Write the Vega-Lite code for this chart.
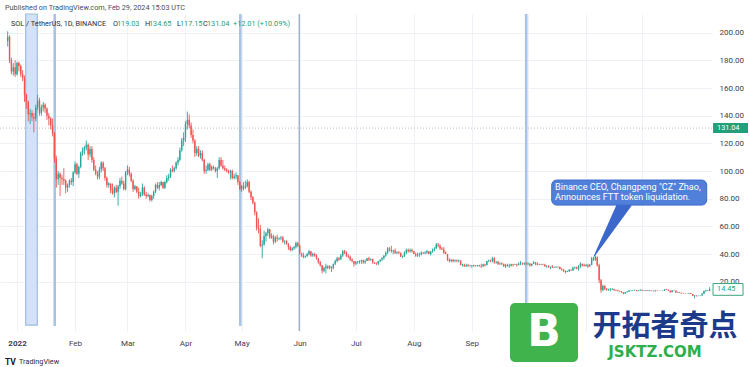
{
"$schema":"https://vega.github.io/schema/vega-lite/v6.json",
"width":712,"height":317,
"autosize":{"type":"none"},
"padding":{"left":0,"top":14,"right":38,"bottom":36},
"background":"white",
"config":{"view":{"stroke":null},"font":"Roboto","text":{"font":"Roboto"}},
"datasets":{
"sol":[
{"d":"2021-12-27","o":194,"h":201,"l":190,"c":197},
{"d":"2021-12-28","o":197,"h":198,"l":178,"c":180},
{"d":"2021-12-29","o":180,"h":182,"l":170,"c":172},
{"d":"2021-12-30","o":172,"h":178,"l":169,"c":175},
{"d":"2021-12-31","o":175,"h":180,"l":168,"c":170},
{"d":"2022-01-01","o":170,"h":179,"l":169,"c":178},
{"d":"2022-01-02","o":178,"h":179,"l":172,"c":176},
{"d":"2022-01-03","o":176,"h":177,"l":168,"c":170},
{"d":"2022-01-04","o":170,"h":173,"l":165,"c":167},
{"d":"2022-01-05","o":167,"h":169,"l":150,"c":155},
{"d":"2022-01-06","o":155,"h":156,"l":145,"c":150},
{"d":"2022-01-07","o":150,"h":151,"l":136,"c":141},
{"d":"2022-01-08","o":141,"h":145,"l":134,"c":142},
{"d":"2022-01-09","o":142,"h":144,"l":136,"c":139},
{"d":"2022-01-10","o":139,"h":142,"l":128,"c":138},
{"d":"2022-01-11","o":138,"h":148,"l":136,"c":146},
{"d":"2022-01-12","o":146,"h":155,"l":144,"c":151},
{"d":"2022-01-13","o":151,"h":153,"l":140,"c":142},
{"d":"2022-01-14","o":142,"h":148,"l":140,"c":146},
{"d":"2022-01-15","o":146,"h":150,"l":143,"c":148},
{"d":"2022-01-16","o":148,"h":149,"l":142,"c":145},
{"d":"2022-01-17","o":145,"h":146,"l":137,"c":140},
{"d":"2022-01-18","o":140,"h":142,"l":133,"c":138},
{"d":"2022-01-19","o":138,"h":139,"l":130,"c":133},
{"d":"2022-01-20","o":133,"h":138,"l":125,"c":127},
{"d":"2022-01-21","o":127,"h":128,"l":106,"c":109},
{"d":"2022-01-22","o":109,"h":111,"l":88,"c":94},
{"d":"2022-01-23","o":94,"h":100,"l":90,"c":98},
{"d":"2022-01-24","o":98,"h":99,"l":82,"c":95},
{"d":"2022-01-25","o":95,"h":97,"l":90,"c":94},
{"d":"2022-01-26","o":94,"h":102,"l":90,"c":93},
{"d":"2022-01-27","o":93,"h":94,"l":84,"c":88},
{"d":"2022-01-28","o":88,"h":91,"l":85,"c":90},
{"d":"2022-01-29","o":90,"h":94,"l":88,"c":93},
{"d":"2022-01-30","o":93,"h":95,"l":90,"c":92},
{"d":"2022-01-31","o":92,"h":100,"l":89,"c":99},
{"d":"2022-02-01","o":99,"h":107,"l":98,"c":105},
{"d":"2022-02-02","o":105,"h":106,"l":97,"c":98},
{"d":"2022-02-03","o":98,"h":104,"l":95,"c":103},
{"d":"2022-02-04","o":103,"h":114,"l":102,"c":113},
{"d":"2022-02-05","o":113,"h":117,"l":111,"c":115},
{"d":"2022-02-06","o":115,"h":118,"l":112,"c":117},
{"d":"2022-02-07","o":117,"h":122,"l":115,"c":119},
{"d":"2022-02-08","o":119,"h":120,"l":108,"c":112},
{"d":"2022-02-09","o":112,"h":118,"l":110,"c":116},
{"d":"2022-02-10","o":116,"h":118,"l":106,"c":108},
{"d":"2022-02-11","o":108,"h":110,"l":100,"c":101},
{"d":"2022-02-12","o":101,"h":104,"l":97,"c":98},
{"d":"2022-02-13","o":98,"h":100,"l":94,"c":96},
{"d":"2022-02-14","o":96,"h":103,"l":94,"c":101},
{"d":"2022-02-15","o":101,"h":107,"l":99,"c":106},
{"d":"2022-02-16","o":106,"h":107,"l":100,"c":102},
{"d":"2022-02-17","o":102,"h":103,"l":93,"c":95},
{"d":"2022-02-18","o":95,"h":96,"l":88,"c":90},
{"d":"2022-02-19","o":90,"h":92,"l":88,"c":91},
{"d":"2022-02-20","o":91,"h":91,"l":84,"c":86},
{"d":"2022-02-21","o":86,"h":91,"l":83,"c":84},
{"d":"2022-02-22","o":84,"h":89,"l":81,"c":88},
{"d":"2022-02-23","o":88,"h":90,"l":84,"c":85},
{"d":"2022-02-24","o":85,"h":90,"l":75,"c":89},
{"d":"2022-02-25","o":89,"h":95,"l":87,"c":93},
{"d":"2022-02-26","o":93,"h":96,"l":90,"c":91},
{"d":"2022-02-27","o":91,"h":93,"l":86,"c":87},
{"d":"2022-02-28","o":87,"h":100,"l":86,"c":99},
{"d":"2022-03-01","o":99,"h":104,"l":97,"c":101},
{"d":"2022-03-02","o":101,"h":103,"l":96,"c":98},
{"d":"2022-03-03","o":98,"h":99,"l":92,"c":93},
{"d":"2022-03-04","o":93,"h":94,"l":85,"c":87},
{"d":"2022-03-05","o":87,"h":90,"l":86,"c":89},
{"d":"2022-03-06","o":89,"h":89,"l":84,"c":85},
{"d":"2022-03-07","o":85,"h":88,"l":80,"c":82},
{"d":"2022-03-08","o":82,"h":85,"l":81,"c":83},
{"d":"2022-03-09","o":83,"h":91,"l":82,"c":88},
{"d":"2022-03-10","o":88,"h":89,"l":82,"c":83},
{"d":"2022-03-11","o":83,"h":85,"l":80,"c":82},
{"d":"2022-03-12","o":82,"h":84,"l":81,"c":82.6},
{"d":"2022-03-13","o":82.6,"h":83,"l":78,"c":79},
{"d":"2022-03-14","o":79,"h":83,"l":78,"c":82},
{"d":"2022-03-15","o":82,"h":86,"l":80,"c":85},
{"d":"2022-03-16","o":85,"h":91,"l":84,"c":90},
{"d":"2022-03-17","o":90,"h":92,"l":87,"c":88},
{"d":"2022-03-18","o":88,"h":92,"l":86,"c":90},
{"d":"2022-03-19","o":90,"h":93,"l":89,"c":92},
{"d":"2022-03-20","o":92,"h":92,"l":87,"c":88},
{"d":"2022-03-21","o":88,"h":93,"l":87,"c":92},
{"d":"2022-03-22","o":92,"h":97,"l":91,"c":95},
{"d":"2022-03-23","o":95,"h":98,"l":93,"c":96},
{"d":"2022-03-24","o":96,"h":102,"l":95,"c":101},
{"d":"2022-03-25","o":101,"h":104,"l":99,"c":100},
{"d":"2022-03-26","o":100,"h":103,"l":99,"c":102},
{"d":"2022-03-27","o":102,"h":107,"l":101,"c":106},
{"d":"2022-03-28","o":106,"h":110,"l":104,"c":108},
{"d":"2022-03-29","o":108,"h":117,"l":107,"c":115},
{"d":"2022-03-30","o":115,"h":124,"l":114,"c":122},
{"d":"2022-03-31","o":122,"h":128,"l":118,"c":124},
{"d":"2022-04-01","o":124,"h":136,"l":121,"c":134},
{"d":"2022-04-02","o":134,"h":143,"l":130,"c":137},
{"d":"2022-04-03","o":137,"h":141,"l":131,"c":133},
{"d":"2022-04-04","o":133,"h":135,"l":124,"c":126},
{"d":"2022-04-05","o":126,"h":130,"l":120,"c":122},
{"d":"2022-04-06","o":122,"h":123,"l":110,"c":113},
{"d":"2022-04-07","o":113,"h":118,"l":111,"c":116},
{"d":"2022-04-08","o":116,"h":118,"l":110,"c":111},
{"d":"2022-04-09","o":111,"h":115,"l":109,"c":113},
{"d":"2022-04-10","o":113,"h":115,"l":107,"c":108},
{"d":"2022-04-11","o":108,"h":109,"l":98,"c":100},
{"d":"2022-04-12","o":100,"h":104,"l":98,"c":101},
{"d":"2022-04-13","o":101,"h":106,"l":100,"c":105},
{"d":"2022-04-14","o":105,"h":106,"l":100,"c":101},
{"d":"2022-04-15","o":101,"h":104,"l":100,"c":103},
{"d":"2022-04-16","o":103,"h":104,"l":101,"c":102},
{"d":"2022-04-17","o":102,"h":103,"l":99,"c":100},
{"d":"2022-04-18","o":100,"h":103,"l":95,"c":102},
{"d":"2022-04-19","o":102,"h":110,"l":101,"c":108},
{"d":"2022-04-20","o":108,"h":110,"l":103,"c":104},
{"d":"2022-04-21","o":104,"h":108,"l":101,"c":102},
{"d":"2022-04-22","o":102,"h":104,"l":100,"c":101},
{"d":"2022-04-23","o":101,"h":102,"l":99,"c":100},
{"d":"2022-04-24","o":100,"h":101,"l":98,"c":99},
{"d":"2022-04-25","o":99,"h":101,"l":94,"c":100},
{"d":"2022-04-26","o":100,"h":101,"l":94,"c":95},
{"d":"2022-04-27","o":95,"h":98,"l":94,"c":96},
{"d":"2022-04-28","o":96,"h":99,"l":94,"c":97},
{"d":"2022-04-29","o":97,"h":97,"l":90,"c":92},
{"d":"2022-04-30","o":92,"h":93,"l":86,"c":87},
{"d":"2022-05-01","o":87,"h":90,"l":85,"c":89},
{"d":"2022-05-02","o":89,"h":92,"l":86,"c":88},
{"d":"2022-05-03","o":88,"h":93,"l":87,"c":89},
{"d":"2022-05-04","o":89,"h":94,"l":88,"c":92},
{"d":"2022-05-05","o":92,"h":93,"l":84,"c":85},
{"d":"2022-05-06","o":85,"h":86,"l":79,"c":81},
{"d":"2022-05-07","o":81,"h":82,"l":76,"c":77},
{"d":"2022-05-08","o":77,"h":78,"l":68,"c":70},
{"d":"2022-05-09","o":70,"h":71,"l":57,"c":59},
{"d":"2022-05-10","o":59,"h":66,"l":55,"c":58},
{"d":"2022-05-11","o":58,"h":61,"l":45,"c":46},
{"d":"2022-05-12","o":46,"h":50,"l":37,"c":47},
{"d":"2022-05-13","o":47,"h":57,"l":46,"c":53},
{"d":"2022-05-14","o":53,"h":56,"l":49,"c":55},
{"d":"2022-05-15","o":55,"h":59,"l":53,"c":58},
{"d":"2022-05-16","o":58,"h":58,"l":51,"c":52},
{"d":"2022-05-17","o":52,"h":55,"l":51,"c":53},
{"d":"2022-05-18","o":53,"h":54,"l":47,"c":49},
{"d":"2022-05-19","o":49,"h":53,"l":48,"c":52},
{"d":"2022-05-20","o":52,"h":54,"l":49,"c":51},
{"d":"2022-05-21","o":51,"h":52,"l":50,"c":51.5},
{"d":"2022-05-22","o":51.5,"h":53,"l":50,"c":52},
{"d":"2022-05-23","o":52,"h":53,"l":48,"c":49},
{"d":"2022-05-24","o":49,"h":50,"l":47,"c":49.5},
{"d":"2022-05-25","o":49.5,"h":50,"l":47,"c":47},
{"d":"2022-05-26","o":47,"h":48,"l":43,"c":45},
{"d":"2022-05-27","o":45,"h":46,"l":42,"c":43},
{"d":"2022-05-28","o":43,"h":45,"l":42,"c":44},
{"d":"2022-05-29","o":44,"h":46,"l":43,"c":45},
{"d":"2022-05-30","o":45,"h":49,"l":44,"c":48},
{"d":"2022-05-31","o":48,"h":49,"l":45,"c":46},
{"d":"2022-06-01","o":46,"h":47,"l":40,"c":40.5},
{"d":"2022-06-02","o":40.5,"h":41,"l":38,"c":39},
{"d":"2022-06-03","o":39,"h":41,"l":37,"c":38},
{"d":"2022-06-04","o":38,"h":39,"l":37,"c":38.5},
{"d":"2022-06-05","o":38.5,"h":41,"l":38,"c":40},
{"d":"2022-06-06","o":40,"h":43,"l":39,"c":42},
{"d":"2022-06-07","o":42,"h":42,"l":38,"c":39},
{"d":"2022-06-08","o":39,"h":41,"l":38,"c":40},
{"d":"2022-06-09","o":40,"h":41,"l":38,"c":39},
{"d":"2022-06-10","o":39,"h":40,"l":36,"c":37},
{"d":"2022-06-11","o":37,"h":37,"l":33,"c":34},
{"d":"2022-06-12","o":34,"h":35,"l":31,"c":32},
{"d":"2022-06-13","o":32,"h":32,"l":26,"c":28},
{"d":"2022-06-14","o":28,"h":31,"l":27,"c":30},
{"d":"2022-06-15","o":30,"h":33,"l":26,"c":31},
{"d":"2022-06-16","o":31,"h":32,"l":29,"c":30},
{"d":"2022-06-17","o":30,"h":32,"l":29,"c":31},
{"d":"2022-06-18","o":31,"h":31,"l":27,"c":30},
{"d":"2022-06-19","o":30,"h":33,"l":29,"c":33},
{"d":"2022-06-20","o":33,"h":36,"l":32,"c":35},
{"d":"2022-06-21","o":35,"h":38,"l":34,"c":37},
{"d":"2022-06-22","o":37,"h":38,"l":35,"c":36},
{"d":"2022-06-23","o":36,"h":40,"l":36,"c":39},
{"d":"2022-06-24","o":39,"h":43,"l":38,"c":42},
{"d":"2022-06-25","o":42,"h":43,"l":40,"c":41},
{"d":"2022-06-26","o":41,"h":42,"l":38,"c":38.5},
{"d":"2022-06-27","o":38.5,"h":40,"l":37,"c":38},
{"d":"2022-06-28","o":38,"h":39,"l":35,"c":36},
{"d":"2022-06-29","o":36,"h":37,"l":34,"c":35},
{"d":"2022-06-30","o":35,"h":35,"l":31,"c":33},
{"d":"2022-07-01","o":33,"h":35,"l":32,"c":34},
{"d":"2022-07-02","o":34,"h":35,"l":33,"c":34.5},
{"d":"2022-07-03","o":34.5,"h":35.5,"l":33,"c":35},
{"d":"2022-07-04","o":35,"h":36,"l":33,"c":35.5},
{"d":"2022-07-05","o":35.5,"h":36,"l":33,"c":34},
{"d":"2022-07-06","o":34,"h":36,"l":33,"c":35},
{"d":"2022-07-07","o":35,"h":37,"l":35,"c":37},
{"d":"2022-07-08","o":37,"h":38,"l":35,"c":36},
{"d":"2022-07-09","o":36,"h":37,"l":35,"c":36.5},
{"d":"2022-07-10","o":36.5,"h":36.5,"l":33,"c":34},
{"d":"2022-07-11","o":34,"h":34,"l":33,"c":33.2},
{"d":"2022-07-12","o":33.2,"h":34,"l":32,"c":33},
{"d":"2022-07-13","o":33,"h":35,"l":32,"c":35},
{"d":"2022-07-14","o":35,"h":36,"l":34,"c":36},
{"d":"2022-07-15","o":36,"h":38,"l":35,"c":37},
{"d":"2022-07-16","o":37,"h":39,"l":36,"c":39},
{"d":"2022-07-17","o":39,"h":42,"l":38,"c":41},
{"d":"2022-07-18","o":41,"h":45,"l":40,"c":44},
{"d":"2022-07-19","o":44,"h":45,"l":42,"c":43},
{"d":"2022-07-20","o":43,"h":46,"l":41,"c":42},
{"d":"2022-07-21","o":42,"h":43,"l":40,"c":42.5},
{"d":"2022-07-22","o":42.5,"h":44,"l":40,"c":41},
{"d":"2022-07-23","o":41,"h":42,"l":40,"c":41.5},
{"d":"2022-07-24","o":41.5,"h":42,"l":40,"c":41},
{"d":"2022-07-25","o":41,"h":41,"l":38,"c":38},
{"d":"2022-07-26","o":38,"h":39,"l":37,"c":38.5},
{"d":"2022-07-27","o":38.5,"h":42,"l":38,"c":41},
{"d":"2022-07-28","o":41,"h":44,"l":40,"c":43},
{"d":"2022-07-29","o":43,"h":44,"l":41,"c":42},
{"d":"2022-07-30","o":42,"h":44,"l":41,"c":43},
{"d":"2022-07-31","o":43,"h":44,"l":41,"c":42},
{"d":"2022-08-01","o":42,"h":42,"l":40,"c":40},
{"d":"2022-08-02","o":40,"h":41,"l":38,"c":39},
{"d":"2022-08-03","o":39,"h":41,"l":38,"c":39.5},
{"d":"2022-08-04","o":39.5,"h":41,"l":38,"c":40},
{"d":"2022-08-05","o":40,"h":42,"l":39,"c":41},
{"d":"2022-08-06","o":41,"h":41.5,"l":40,"c":40.6},
{"d":"2022-08-07","o":40.6,"h":42,"l":40,"c":41.2},
{"d":"2022-08-08","o":41.2,"h":43,"l":40,"c":42},
{"d":"2022-08-09","o":42,"h":42,"l":40,"c":40},
{"d":"2022-08-10","o":40,"h":42,"l":39,"c":42},
{"d":"2022-08-11","o":42,"h":44,"l":41,"c":43},
{"d":"2022-08-12","o":43,"h":45,"l":42,"c":44},
{"d":"2022-08-13","o":44,"h":48,"l":44,"c":47},
{"d":"2022-08-14","o":47,"h":48,"l":45,"c":46},
{"d":"2022-08-15","o":46,"h":47,"l":43,"c":44},
{"d":"2022-08-16","o":44,"h":45,"l":43,"c":43.3},
{"d":"2022-08-17","o":43.3,"h":45,"l":40,"c":41},
{"d":"2022-08-18","o":41,"h":42,"l":40,"c":40},
{"d":"2022-08-19","o":40,"h":40,"l":35,"c":36},
{"d":"2022-08-20","o":36,"h":37,"l":34,"c":35},
{"d":"2022-08-21","o":35,"h":36,"l":34,"c":36},
{"d":"2022-08-22","o":36,"h":36.2,"l":34,"c":35},
{"d":"2022-08-23","o":35,"h":36,"l":34,"c":35.5},
{"d":"2022-08-24","o":35.5,"h":36,"l":34,"c":35},
{"d":"2022-08-25","o":35,"h":36,"l":34,"c":35.3},
{"d":"2022-08-26","o":35.3,"h":35.5,"l":32,"c":32},
{"d":"2022-08-27","o":32,"h":33,"l":31,"c":32.3},
{"d":"2022-08-28","o":32.3,"h":33,"l":31,"c":31},
{"d":"2022-08-29","o":31,"h":33,"l":31,"c":32},
{"d":"2022-08-30","o":32,"h":33,"l":31,"c":31.2},
{"d":"2022-08-31","o":31.2,"h":32,"l":31,"c":31.5},
{"d":"2022-09-01","o":31.5,"h":32,"l":30,"c":32},
{"d":"2022-09-02","o":32,"h":32.3,"l":31,"c":31.2},
{"d":"2022-09-03","o":31.2,"h":32,"l":31,"c":31.4},
{"d":"2022-09-04","o":31.4,"h":32,"l":31,"c":32},
{"d":"2022-09-05","o":32,"h":32.2,"l":31,"c":31.3},
{"d":"2022-09-06","o":31.3,"h":33,"l":30,"c":31},
{"d":"2022-09-07","o":31,"h":33,"l":31,"c":32.5},
{"d":"2022-09-08","o":32.5,"h":33,"l":31,"c":32},
{"d":"2022-09-09","o":32,"h":35,"l":32,"c":35},
{"d":"2022-09-10","o":35,"h":36,"l":34,"c":35.4},
{"d":"2022-09-11","o":35.4,"h":36,"l":34,"c":35},
{"d":"2022-09-12","o":35,"h":38,"l":34,"c":37},
{"d":"2022-09-13","o":37,"h":38,"l":33,"c":34},
{"d":"2022-09-14","o":34,"h":35,"l":33,"c":34.4},
{"d":"2022-09-15","o":34.4,"h":35,"l":32,"c":33},
{"d":"2022-09-16","o":33,"h":34,"l":32,"c":33.3},
{"d":"2022-09-17","o":33.3,"h":34,"l":32,"c":33},
{"d":"2022-09-18","o":33,"h":33,"l":31,"c":31},
{"d":"2022-09-19","o":31,"h":33,"l":30,"c":32},
{"d":"2022-09-20","o":32,"h":33,"l":31,"c":31.2},
{"d":"2022-09-21","o":31.2,"h":33,"l":30,"c":31.5},
{"d":"2022-09-22","o":31.5,"h":33,"l":31,"c":32.6},
{"d":"2022-09-23","o":32.6,"h":33,"l":31,"c":32.2},
{"d":"2022-09-24","o":32.2,"h":33,"l":32,"c":32.4},
{"d":"2022-09-25","o":32.4,"h":33,"l":31,"c":32},
{"d":"2022-09-26","o":32,"h":34,"l":32,"c":33},
{"d":"2022-09-27","o":33,"h":35,"l":32,"c":33.3},
{"d":"2022-09-28","o":33.3,"h":34,"l":32,"c":33},
{"d":"2022-09-29","o":33,"h":34,"l":32,"c":33.4},
{"d":"2022-09-30","o":33.4,"h":34,"l":32,"c":33},
{"d":"2022-10-01","o":33,"h":34,"l":32,"c":33.2},
{"d":"2022-10-02","o":33.2,"h":33.3,"l":31,"c":32},
{"d":"2022-10-03","o":32,"h":33,"l":31,"c":33},
{"d":"2022-10-04","o":33,"h":35,"l":33,"c":34},
{"d":"2022-10-05","o":34,"h":34,"l":32,"c":33},
{"d":"2022-10-06","o":33,"h":34,"l":32,"c":32.3},
{"d":"2022-10-07","o":32.3,"h":33,"l":32,"c":32.1},
{"d":"2022-10-08","o":32.1,"h":33,"l":32,"c":32.5},
{"d":"2022-10-09","o":32.5,"h":33,"l":32,"c":32.2},
{"d":"2022-10-10","o":32.2,"h":33,"l":31,"c":31},
{"d":"2022-10-11","o":31,"h":32,"l":30,"c":31.2},
{"d":"2022-10-12","o":31.2,"h":32,"l":30,"c":30.8},
{"d":"2022-10-13","o":30.8,"h":31,"l":29,"c":31},
{"d":"2022-10-14","o":31,"h":32,"l":30,"c":30.2},
{"d":"2022-10-15","o":30.2,"h":31,"l":30,"c":30.4},
{"d":"2022-10-16","o":30.4,"h":31,"l":30,"c":30.9},
{"d":"2022-10-17","o":30.9,"h":31,"l":30,"c":30.6},
{"d":"2022-10-18","o":30.6,"h":31,"l":29,"c":29.2},
{"d":"2022-10-19","o":29.2,"h":30,"l":28,"c":28.9},
{"d":"2022-10-20","o":28.9,"h":29,"l":27,"c":28},
{"d":"2022-10-21","o":28,"h":28,"l":26,"c":27},
{"d":"2022-10-22","o":27,"h":28,"l":27,"c":27.6},
{"d":"2022-10-23","o":27.6,"h":29,"l":27,"c":28.6},
{"d":"2022-10-24","o":28.6,"h":29,"l":28,"c":28.2},
{"d":"2022-10-25","o":28.2,"h":31,"l":28,"c":30},
{"d":"2022-10-26","o":30,"h":31,"l":29,"c":30.3},
{"d":"2022-10-27","o":30.3,"h":31,"l":29,"c":29.4},
{"d":"2022-10-28","o":29.4,"h":32,"l":28,"c":31},
{"d":"2022-10-29","o":31,"h":34,"l":30,"c":33},
{"d":"2022-10-30","o":33,"h":33,"l":31,"c":32},
{"d":"2022-10-31","o":32,"h":33,"l":31,"c":31.3},
{"d":"2022-11-01","o":31.3,"h":33,"l":31,"c":32},
{"d":"2022-11-02","o":32,"h":33,"l":30,"c":31},
{"d":"2022-11-03","o":31,"h":33,"l":31,"c":32.2},
{"d":"2022-11-04","o":32.2,"h":38,"l":32,"c":37},
{"d":"2022-11-05","o":37,"h":38,"l":35,"c":36},
{"d":"2022-11-06","o":36,"h":39,"l":35,"c":38},
{"d":"2022-11-07","o":38,"h":38,"l":31,"c":32},
{"d":"2022-11-08","o":32,"h":33,"l":19,"c":21},
{"d":"2022-11-09","o":21,"h":22,"l":12,"c":14},
{"d":"2022-11-10","o":14,"h":18,"l":13,"c":17},
{"d":"2022-11-11","o":17,"h":17.5,"l":14,"c":15},
{"d":"2022-11-12","o":15,"h":15.5,"l":13.5,"c":14},
{"d":"2022-11-13","o":14,"h":15,"l":13.5,"c":14.2},
{"d":"2022-11-14","o":14.2,"h":15.5,"l":13,"c":14.4},
{"d":"2022-11-15","o":14.4,"h":15.5,"l":14,"c":14.6},
{"d":"2022-11-16","o":14.6,"h":15,"l":13.5,"c":13.8},
{"d":"2022-11-17","o":13.8,"h":14.2,"l":13.2,"c":13.6},
{"d":"2022-11-18","o":13.6,"h":14.2,"l":13,"c":13.3},
{"d":"2022-11-19","o":13.3,"h":13.6,"l":12.8,"c":13},
{"d":"2022-11-20","o":13,"h":13.2,"l":12,"c":12.2},
{"d":"2022-11-21","o":12.2,"h":12.5,"l":11,"c":11.5},
{"d":"2022-11-22","o":11.5,"h":12.6,"l":11.2,"c":12.4},
{"d":"2022-11-23","o":12.4,"h":13.2,"l":12.2,"c":13},
{"d":"2022-11-24","o":13,"h":14,"l":12.8,"c":13.6},
{"d":"2022-11-25","o":13.6,"h":14,"l":13.2,"c":13.7},
{"d":"2022-11-26","o":13.7,"h":14.2,"l":13.4,"c":13.8},
{"d":"2022-11-27","o":13.8,"h":14.3,"l":13.5,"c":13.9},
{"d":"2022-11-28","o":13.9,"h":14,"l":13,"c":13.4},
{"d":"2022-11-29","o":13.4,"h":14,"l":13.2,"c":13.7},
{"d":"2022-11-30","o":13.7,"h":14.5,"l":13.5,"c":14.1},
{"d":"2022-12-01","o":14.1,"h":14.3,"l":13.4,"c":13.6},
{"d":"2022-12-02","o":13.6,"h":14,"l":13.3,"c":13.8},
{"d":"2022-12-03","o":13.8,"h":14,"l":13.2,"c":13.4},
{"d":"2022-12-04","o":13.4,"h":13.9,"l":13.3,"c":13.8},
{"d":"2022-12-05","o":13.8,"h":14.1,"l":13.3,"c":13.4},
{"d":"2022-12-06","o":13.4,"h":13.7,"l":13.2,"c":13.5},
{"d":"2022-12-07","o":13.5,"h":13.6,"l":12.9,"c":13.2},
{"d":"2022-12-08","o":13.2,"h":13.9,"l":13.1,"c":13.7},
{"d":"2022-12-09","o":13.7,"h":14,"l":13.4,"c":13.6},
{"d":"2022-12-10","o":13.6,"h":13.8,"l":13.5,"c":13.7},
{"d":"2022-12-11","o":13.7,"h":13.9,"l":13.5,"c":13.6},
{"d":"2022-12-12","o":13.6,"h":13.8,"l":13.2,"c":13.7},
{"d":"2022-12-13","o":13.7,"h":14.8,"l":13.4,"c":14.4},
{"d":"2022-12-14","o":14.4,"h":14.8,"l":14,"c":14.2},
{"d":"2022-12-15","o":14.2,"h":14.3,"l":13.3,"c":13.5},
{"d":"2022-12-16","o":13.5,"h":13.6,"l":12.2,"c":12.4},
{"d":"2022-12-17","o":12.4,"h":13.9,"l":12.3,"c":13.7},
{"d":"2022-12-18","o":13.7,"h":13.8,"l":13.3,"c":13.5},
{"d":"2022-12-19","o":13.5,"h":13.6,"l":12.1,"c":12.3},
{"d":"2022-12-20","o":12.3,"h":12.8,"l":11.9,"c":12.4},
{"d":"2022-12-21","o":12.4,"h":12.5,"l":11.8,"c":12},
{"d":"2022-12-22","o":12,"h":12.1,"l":11.4,"c":11.6},
{"d":"2022-12-23","o":11.6,"h":11.8,"l":11.3,"c":11.5},
{"d":"2022-12-24","o":11.5,"h":11.6,"l":11.2,"c":11.3},
{"d":"2022-12-25","o":11.3,"h":11.6,"l":11.1,"c":11.4},
{"d":"2022-12-26","o":11.4,"h":11.8,"l":11.2,"c":11.6},
{"d":"2022-12-27","o":11.6,"h":11.7,"l":11,"c":11.1},
{"d":"2022-12-28","o":11.1,"h":11.2,"l":9.6,"c":9.8},
{"d":"2022-12-29","o":9.8,"h":10.3,"l":8,"c":10.1},
{"d":"2022-12-30","o":10.1,"h":10.2,"l":9.3,"c":9.9},
{"d":"2022-12-31","o":9.9,"h":10.1,"l":9.5,"c":9.97},
{"d":"2023-01-01","o":9.97,"h":10.2,"l":9.6,"c":10},
{"d":"2023-01-02","o":10,"h":11.7,"l":9.9,"c":11.3},
{"d":"2023-01-03","o":11.3,"h":13.6,"l":11.2,"c":13.3},
{"d":"2023-01-04","o":13.3,"h":14,"l":12.6,"c":13.6},
{"d":"2023-01-05","o":13.6,"h":13.9,"l":13.2,"c":13.4},
{"d":"2023-01-06","o":13.4,"h":16,"l":13.1,"c":14.45}
],
"txt":[
{"g":"pub","t":"2021-12-25T13:40:00Z","p":217.8,"s":"Published on TradingView.com, Feb 29, 2024 15:03 UTC"},
{"g":"leg","t":"2021-12-28T18:43:00Z","p":206.3,"s":"SOL / TetherUS, 1D, BINANCE"},
{"g":"leg","t":"2022-02-21T06:29:00Z","p":206.3,"s":"O"},
{"g":"val","t":"2022-02-23T09:50:00Z","p":206.3,"s":"119.03"},
{"g":"leg","t":"2022-03-10T08:53:00Z","p":206.3,"s":"H"},
{"g":"val","t":"2022-03-12T12:14:00Z","p":206.3,"s":"134.65"},
{"g":"leg","t":"2022-03-27T11:17:00Z","p":206.3,"s":"L"},
{"g":"val","t":"2022-03-29T01:41:00Z","p":206.3,"s":"117.15"},
{"g":"leg","t":"2022-04-10T08:38:00Z","p":206.3,"s":"C"},
{"g":"val","t":"2022-04-12T12:00:00Z","p":206.3,"s":"131.04"},
{"g":"val","t":"2022-04-26T09:22:00Z","p":206.3,"s":"+12.01 (+10.09%)"},
{"g":"foot","t":"2022-01-02T01:12:00Z","p":-38,"s":"TradingView"},
{"g":"tag","t":"2023-01-09T23:46:00Z","p":131.04,"s":"131.04"},
{"g":"tag2","t":"2023-01-09T23:46:00Z","p":14.45,"s":"14.45"}
]
},
"layer":[
{"data":{"values":[{"t1":"2022-01-05T15:07:00Z","t2":"2022-01-11T19:55:00Z"}]},
 "mark":{"type":"rect","fill":"#d3e2f9","stroke":"#9fbbe0","strokeWidth":1.2},
 "encoding":{"x":{"field":"t1","type":"temporal"},"x2":{"field":"t2"},
  "y":{"datum":213.5,"type":"quantitative"},"y2":{"datum":-11.3}}},
{"data":{"values":[{"t":"2022-01-21T03:07:00Z"},{"t":"2022-04-30T06:58:00Z"},{"t":"2022-09-30T00:58:00Z"}]},
 "mark":{"type":"rule","color":"#a9c3e2","strokeWidth":2.6},
 "encoding":{"x":{"field":"t","type":"temporal"},
  "y":{"datum":213.5,"type":"quantitative"},"y2":{"datum":-12}}},
{"data":{"values":[{"t":"2022-05-31T18:14:00Z"}]},
 "mark":{"type":"rule","color":"#8ea6c0","strokeWidth":1.2},
 "encoding":{"x":{"field":"t","type":"temporal"},
  "y":{"datum":213.5,"type":"quantitative"},"y2":{"datum":-15.6}}},
{"data":{"values":[{"v":131.04}]},
 "mark":{"type":"rule","color":"#b8bcc6","strokeWidth":1,"strokeDash":[1,2]},
 "encoding":{"y":{"field":"v","type":"quantitative"}}},
{"data":{"name":"sol"},
 "mark":{"type":"rule","strokeWidth":0.9},
 "encoding":{
  "x":{"field":"d","type":"temporal",
   "scale":{"type":"utc","domain":[1640208960000,1673075520000],"padding":0,"nice":false},
   "axis":{"title":null,
    "values":[1640995200000,1643673600000,1646092800000,1648771200000,1651363200000,1654041600000,1656633600000,1659312000000,1661990400000,1664582400000,1667260800000,1669852800000],
    "labelExpr":"utcmonth(datum.value)==0 ? '2022' : (utcmonth(datum.value)>=9 ? '' : utcFormat(datum.value,'%b'))",
    "labelFontWeight":{"condition":{"test":"utcmonth(datum.value)==0","value":"bold"},"value":"normal"},
    "labelFontSize":8,"labelColor":"#3d414c","labelBaseline":"middle","labelPadding":12,
    "ticks":false,"tickSize":0,"domain":false,"grid":true,"gridColor":"#eef1f6","tickCount":30,
    "labelFlush":false,"labelOverlap":false}},
  "y":{"field":"l","type":"quantitative",
   "scale":{"domain":[-15.6,213.5],"nice":false,"zero":false,"padding":0},
   "axis":{"title":null,"orient":"right","values":[20,40,60,80,100,120,140,160,180,200],"format":".2f","tickCount":30,
    "labelFontSize":8,"labelColor":"#3d414c","labelPadding":7,"labelAlign":"left",
    "ticks":false,"tickSize":0,"domain":false,"grid":true,"gridColor":"#eef1f6",
    "labelFlush":false,"labelOverlap":false}},
  "y2":{"field":"h"},
  "color":{"condition":{"test":"datum.c >= datum.o","value":"#26a69a"},"value":"#ef5350"}}},
{"data":{"name":"sol"},
 "mark":{"type":"bar","size":1.4},
 "encoding":{
  "x":{"field":"d","type":"temporal"},
  "y":{"field":"o","type":"quantitative"},
  "y2":{"field":"c"},
  "color":{"condition":{"test":"datum.c >= datum.o","value":"#26a69a"},"value":"#ef5350"}}},
{"data":{"values":[{"t":"2022-11-05T09:36:00Z","p":38.6,"w":0},{"t":"2022-11-21T19:55:00Z","p":77,"w":1}]},
 "mark":{"type":"trail","color":"#3c68cc"},
 "encoding":{"x":{"field":"t","type":"temporal"},
  "y":{"field":"p","type":"quantitative"},
  "size":{"field":"w","type":"quantitative","scale":{"domain":[0,1],"range":[0,14]},"legend":null}}},
{"data":{"values":[{"t1":"2022-10-13T15:50:00Z","t2":"2023-01-04T11:17:00Z"}]},
 "mark":{"type":"rect","fill":"#5080da","stroke":"#3f6ccc","strokeWidth":1,"cornerRadius":5},
 "encoding":{"x":{"field":"t1","type":"temporal"},"x2":{"field":"t2"},
  "y":{"datum":93.5,"type":"quantitative"},"y2":{"datum":75.4}}},
{"data":{"values":[{"t":"2022-10-15T10:05:00Z","p":88.6,"s":"Binance CEO, Changpeng \"CZ\" Zhao,"},{"t":"2022-10-15T10:05:00Z","p":81.0,"s":"Announces FTT token liquidation."}]},
 "mark":{"type":"text","align":"left","baseline":"middle","fontSize":9.1,"color":"#ffffff","font":"Roboto"},
 "encoding":{"x":{"field":"t","type":"temporal"},"y":{"field":"p","type":"quantitative"},"text":{"field":"s"}}},
{"data":{"values":[{"t1":"2023-01-07T20:24:00Z","t2":"2023-01-26T13:12:00Z"}]},
 "mark":{"type":"rect","fill":"#22a07c"},
 "encoding":{"x":{"field":"t1","type":"temporal"},"x2":{"field":"t2"},
  "y":{"datum":134.7,"type":"quantitative"},"y2":{"datum":127.5}}},
{"data":{"values":[{"t1":"2023-01-07T20:24:00Z","t2":"2023-01-23T21:07:00Z"}]},
 "mark":{"type":"rect","fill":"white","stroke":"#3aa77e","strokeWidth":1},
 "encoding":{"x":{"field":"t1","type":"temporal"},"x2":{"field":"t2"},
  "y":{"datum":18.7,"type":"quantitative"},"y2":{"datum":10.2}}},
{"data":{"name":"txt"},
 "mark":{"type":"text","align":"left","baseline":"middle","fontSize":7.3,"font":"Roboto"},
 "encoding":{"x":{"field":"t","type":"temporal"},
  "y":{"field":"p","type":"quantitative"},
  "text":{"field":"s"},
  "color":{"field":"g","type":"nominal","legend":null,
   "scale":{"domain":["pub","leg","val","foot","tag","tag2"],"range":["#4a4e59","#2a2e39","#1e9e7e","#2a2e39","#ffffff","#22a07c"]}}}},
{"data":{"values":[{"t":"2021-12-25T13:40:00Z","p":-38,"s":"TV"}]},
 "mark":{"type":"text","align":"left","baseline":"middle","fontSize":8.5,"fontWeight":"bold","color":"#131722","font":"Roboto"},
 "encoding":{"x":{"field":"t","type":"temporal"},"y":{"field":"p","type":"quantitative"},"text":{"field":"s"}}},
{"data":{"values":[{"t1":"2022-09-21T09:07:00Z","t2":"2022-10-27T17:02:00Z"}]},
 "mark":{"type":"rect","fill":"#41b34d","cornerRadius":5},
 "encoding":{"x":{"field":"t1","type":"temporal"},"x2":{"field":"t2"},
  "y":{"datum":4.6,"type":"quantitative"},"y2":{"datum":-38}}},
{"data":{"values":[{"t":"2022-10-09T13:41:00Z","p":-17,"s":"B"}]},
 "mark":{"type":"text","align":"center","baseline":"middle","fontSize":44,"fontWeight":"bold","color":"#ffffff","font":"DejaVu Sans"},
 "encoding":{"x":{"field":"t","type":"temporal"},"y":{"field":"p","type":"quantitative"},"text":{"field":"s"}}},
{"data":{"values":[{"t":"2022-12-13T04:48:00Z","p":-12.7,"s":"开拓者奇点"}]},
 "mark":{"type":"text","align":"center","baseline":"middle","fontSize":29,"fontWeight":"bold","color":"#1d3a8a","font":"Noto Sans CJK SC"},
 "encoding":{"x":{"field":"t","type":"temporal"},"y":{"field":"p","type":"quantitative"},"text":{"field":"s"}}},
{"data":{"values":[{"t":"2022-12-07T20:38:00Z","p":-30.8,"s":"JSKTZ.COM"}]},
 "mark":{"type":"text","align":"center","baseline":"middle","fontSize":15,"fontWeight":"bold","color":"#2fae4a","font":"DejaVu Sans"},
 "encoding":{"x":{"field":"t","type":"temporal"},"y":{"field":"p","type":"quantitative"},"text":{"field":"s"}}}
]
}
